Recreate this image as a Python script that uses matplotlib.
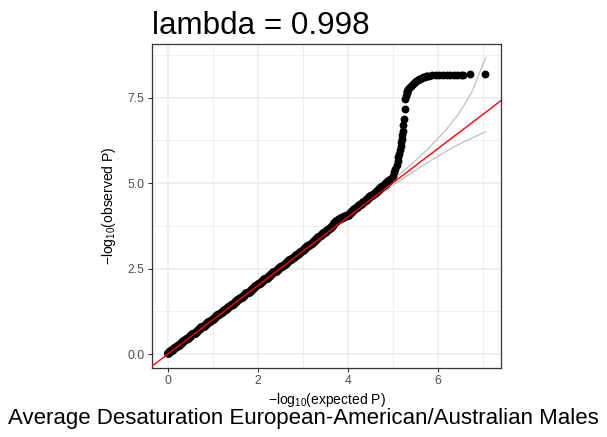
import matplotlib
matplotlib.use("Agg")
import matplotlib.pyplot as plt

plt.rcParams['font.family'] = ['Liberation Sans', 'DejaVu Sans']
plt.rcParams['mathtext.fontset'] = 'custom'
plt.rcParams['mathtext.rm'] = 'Liberation Sans'
plt.rcParams['mathtext.default'] = 'regular'

title = "lambda = 0.998"
caption = "Average Desaturation European-American/Australian Males"

# expected vs observed -log10(P)
# bulk of the points, hugging the diagonal
diag_exp = [0.00, 0.05, 0.10, 0.15, 0.20, 0.25, 0.30, 0.35, 0.40, 0.45,
            0.50, 0.55, 0.60, 0.65, 0.70, 0.75, 0.80, 0.85, 0.90, 0.95,
            1.00, 1.05, 1.10, 1.15, 1.20, 1.25, 1.30, 1.35, 1.40, 1.45,
            1.50, 1.55, 1.60, 1.65, 1.70, 1.75, 1.80, 1.85, 1.90, 1.95,
            2.00, 2.05, 2.10, 2.15, 2.20, 2.25, 2.30, 2.35, 2.40, 2.45,
            2.50, 2.55, 2.60, 2.65, 2.70, 2.75, 2.80, 2.85, 2.90, 2.95,
            3.00, 3.05, 3.10, 3.15, 3.20, 3.25, 3.30, 3.35, 3.40, 3.45,
            3.50, 3.55, 3.60, 3.65, 3.70, 3.75, 3.80, 3.85, 3.90, 3.95,
            4.00, 4.05, 4.10, 4.15, 4.20, 4.25, 4.30, 4.35, 4.40, 4.45,
            4.50, 4.55, 4.60, 4.65, 4.70, 4.75, 4.80, 4.85, 4.90]
diag_obs = [0.03, 0.08, 0.13, 0.18, 0.23, 0.28, 0.33, 0.38, 0.43, 0.48,
            0.53, 0.58, 0.63, 0.68, 0.73, 0.78, 0.83, 0.88, 0.93, 0.98,
            1.03, 1.08, 1.13, 1.18, 1.23, 1.28, 1.33, 1.38, 1.43, 1.48,
            1.53, 1.58, 1.63, 1.68, 1.73, 1.78, 1.83, 1.88, 1.93, 1.98,
            2.04, 2.09, 2.14, 2.19, 2.24, 2.29, 2.34, 2.39, 2.44, 2.49,
            2.54, 2.59, 2.64, 2.69, 2.74, 2.79, 2.84, 2.89, 2.94, 2.99,
            3.04, 3.10, 3.15, 3.20, 3.25, 3.31, 3.36, 3.42, 3.47, 3.53,
            3.58, 3.64, 3.70, 3.76, 3.82, 3.88, 3.95, 3.98, 4.01, 4.04,
            4.08, 4.13, 4.18, 4.24, 4.29, 4.35, 4.40, 4.46, 4.51, 4.56,
            4.61, 4.66, 4.71, 4.77, 4.82, 4.88, 4.93, 4.99, 5.06]

# the top hits: sharp rise and plateau
tail_exp = [4.95, 5.0, 5.03, 5.06, 5.09, 5.11, 5.13, 5.15, 5.17, 5.18,
            5.19, 5.2, 5.21, 5.22, 5.24, 5.26, 5.27, 5.28, 5.3, 5.31,
            5.32, 5.33, 5.35, 5.36, 5.38, 5.4, 5.43, 5.45, 5.48, 5.5,
            5.53, 5.56, 5.59, 5.62, 5.65, 5.68, 5.71, 5.74, 5.77, 5.8,
            5.88, 5.96, 6.04, 6.12, 6.2, 6.28, 6.36, 6.44, 6.52, 6.56,
            6.72, 7.06]
tail_obs = [5.13, 5.22, 5.32, 5.42, 5.53, 5.64, 5.75, 5.86, 5.97, 6.08,
            6.19, 6.30, 6.42, 6.52, 6.70, 6.86, 7.18, 7.45, 7.55, 7.62,
            7.66, 7.70, 7.74, 7.78, 7.81, 7.84, 7.88, 7.91, 7.94, 7.96,
            7.99, 8.01, 8.03, 8.05, 8.07, 8.09, 8.11, 8.12, 8.13, 8.14,
            8.15, 8.15, 8.15, 8.16, 8.16, 8.16, 8.16, 8.16, 8.17, 8.17,
            8.20, 8.20]

# confidence band curves
band_x = [0.0, 2.0, 4.07, 4.5, 5.07, 5.47, 5.77, 5.99, 6.17, 6.29, 6.37, 6.47, 6.59, 6.77, 7.07]
band_hi = [0.0, 2.0, 4.10, 4.54, 5.16, 5.61, 5.98, 6.28, 6.53, 6.73, 6.86, 7.03, 7.28, 7.69, 8.67]
band_lo = [0.0, 2.0, 4.04, 4.46, 4.99, 5.34, 5.60, 5.77, 5.91, 6.00, 6.06, 6.13, 6.21, 6.32, 6.50]

fig = plt.figure(figsize=(6.07, 4.37), dpi=100)
ax = fig.add_axes([152 / 607, 1 - 367.5 / 437, 349 / 607, 324 / 437])

ax.plot(band_x, band_hi, color='#BEBEBE', lw=0.9, zorder=2)
ax.plot(band_x, band_lo, color='#BEBEBE', lw=0.9, zorder=2)
ax.scatter(diag_exp, diag_obs, s=42, color='black', linewidths=0, zorder=3)
ax.scatter(tail_exp, tail_obs, s=32, color='black', linewidths=0, zorder=3)
ax.axline((0, 0), slope=1, color='red', lw=1.0, zorder=4)

ax.set_xlim(-0.35, 7.41)
ax.set_ylim(-0.39, 9.08)
ax.set_xticks([0, 2, 4, 6])
ax.set_xticks([1, 3, 5, 7], minor=True)
ax.set_yticks([0, 2.5, 5.0, 7.5])
ax.set_yticklabels(['0.0', '2.5', '5.0', '7.5'])
ax.set_yticks([1.25, 3.75, 6.25, 8.75], minor=True)
ax.grid(which='major', color='#EBEBEB', lw=1.1)
ax.grid(which='minor', color='#EBEBEB', lw=0.6)
ax.set_axisbelow(True)
ax.tick_params(which='major', length=3, width=0.8, color='#333333',
               labelsize=8.8, labelcolor='#4D4D4D', pad=2.5)
ax.tick_params(which='minor', length=0)
for sp in ax.spines.values():
    sp.set_color('#333333')
    sp.set_linewidth(0.9)

ax.set_xlabel('\u2212log$_{10}$(expected P)', fontsize=10, labelpad=3)
ax.set_ylabel('\u2212log$_{10}$(observed P)', fontsize=10, labelpad=7)

fig.text(152 / 607, 1 - 34.5 / 437, title, fontsize=22.6, ha='left', va='baseline')
fig.text(0.5, 1 - 424 / 437, caption, fontsize=16, ha='center', va='baseline')

fig.savefig('out.png', dpi=100)
